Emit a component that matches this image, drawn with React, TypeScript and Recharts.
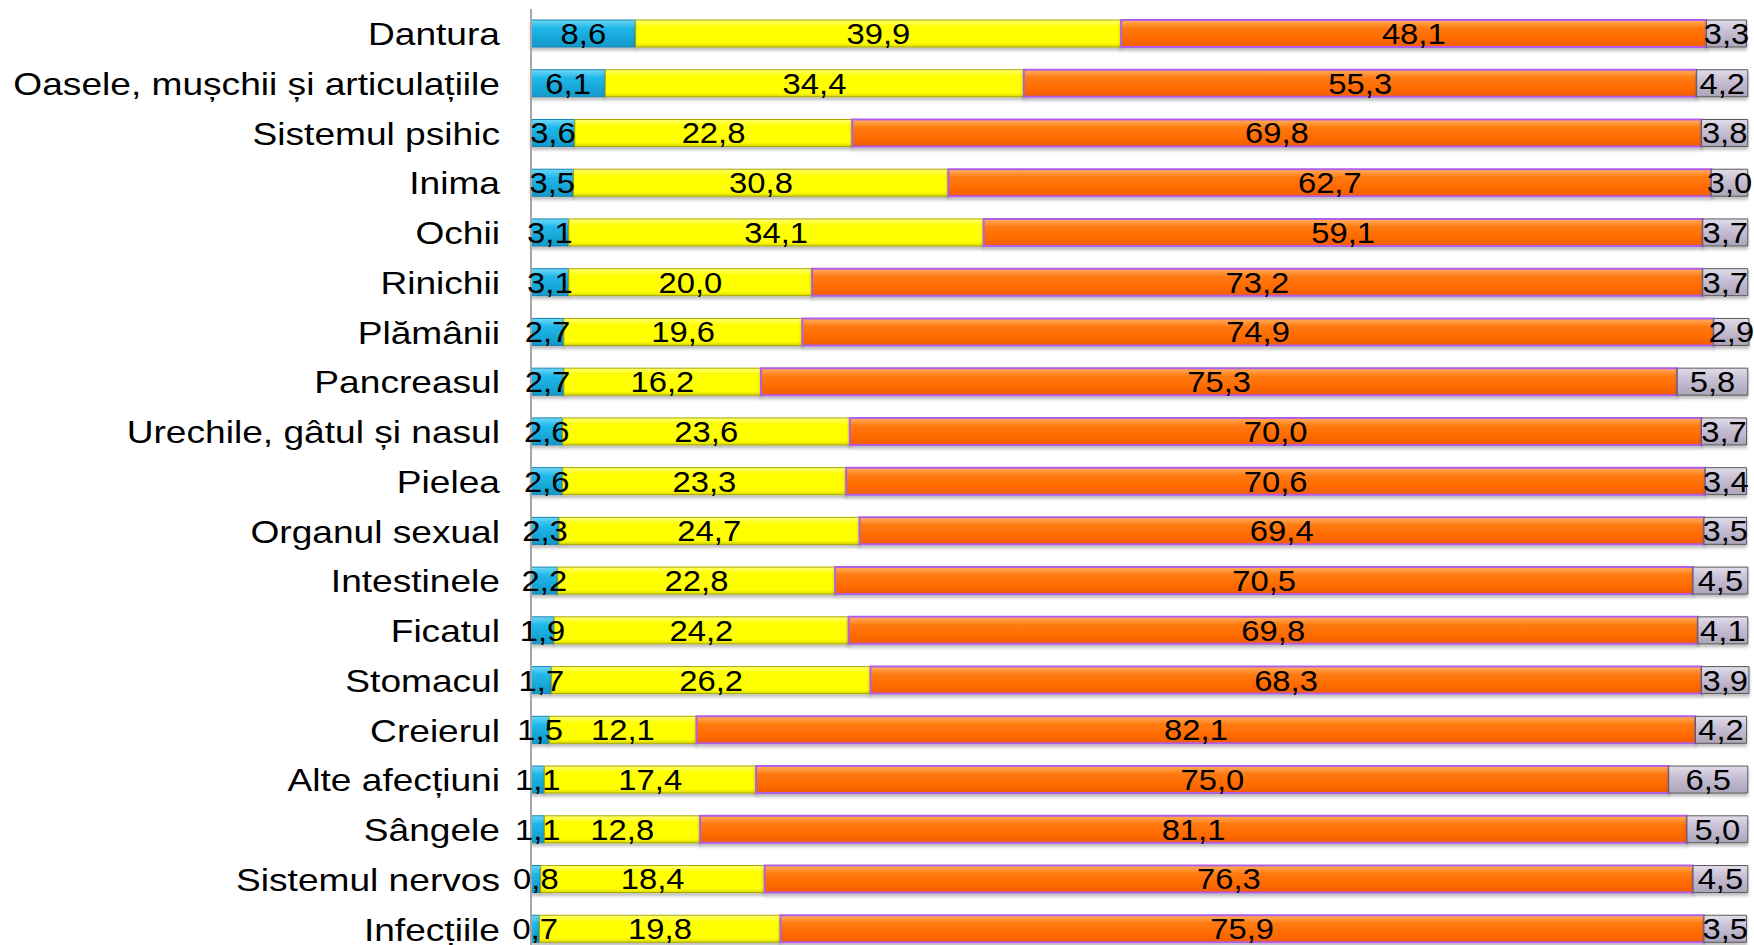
import React from 'react';
import { BarChart, Bar, XAxis, YAxis, LabelList } from 'recharts';

const categories = [
  'Dantura',
  'Oasele, mușchii și articulațiile',
  'Sistemul psihic',
  'Inima',
  'Ochii',
  'Rinichii',
  'Plămânii',
  'Pancreasul',
  'Urechile, gâtul și nasul',
  'Pielea',
  'Organul sexual',
  'Intestinele',
  'Ficatul',
  'Stomacul',
  'Creierul',
  'Alte afecțiuni',
  'Sângele',
  'Sistemul nervos',
  'Infecțiile',
];

const blueValues = [8.6, 6.1, 3.6, 3.5, 3.1, 3.1, 2.7, 2.7, 2.6, 2.6, 2.3, 2.2, 1.9, 1.7, 1.5, 1.1, 1.1, 0.8, 0.7];
const yellowValues = [39.9, 34.4, 22.8, 30.8, 34.1, 20.0, 19.6, 16.2, 23.6, 23.3, 24.7, 22.8, 24.2, 26.2, 12.1, 17.4, 12.8, 18.4, 19.8];
const orangeValues = [48.1, 55.3, 69.8, 62.7, 59.1, 73.2, 74.9, 75.3, 70.0, 70.6, 69.4, 70.5, 69.8, 68.3, 82.1, 75.0, 81.1, 76.3, 75.9];
const grayValues = [3.3, 4.2, 3.8, 3.0, 3.7, 3.7, 2.9, 5.8, 3.7, 3.4, 3.5, 4.5, 4.1, 3.9, 4.2, 6.5, 5.0, 4.5, 3.5];

const data = categories.map((name, i) => ({
  name,
  blue: blueValues[i],
  yellow: yellowValues[i],
  orange: orangeValues[i],
  gray: grayValues[i],
}));

const FONT = '"Liberation Sans", Arial, sans-serif';
const fmt = (v: any) => Number(v).toFixed(1).replace('.', ',');

// the source picture is a bit stretched sideways, so text is widened to match
function CategoryTick(props: any) {
  const { x, y, payload } = props;
  return (
    <g transform={`translate(${x},${y}) scale(1.16,1)`}>
      <text x={0} y={0} dy="0.355em" textAnchor="end" fontSize={32} fontFamily={FONT} fill="#000">
        {payload.value}
      </text>
    </g>
  );
}

function SegmentLabel(props: any) {
  const { x, y, width, height, value } = props;
  const cx = Number(x) + Number(width) / 2;
  const cy = Number(y) + Number(height) / 2;
  return (
    <g transform={`translate(${cx},${cy}) scale(1.13,1)`}>
      <text x={0} y={0} dy="0.36em" textAnchor="middle" fontSize={29} fontFamily={FONT} fill="#000">
        {fmt(value)}
      </text>
    </g>
  );
}

export default function App() {
  return (
    <div style={{ position: 'absolute', top: 0, left: 0, width: 1754, height: 945, overflow: 'hidden', background: '#fff' }}>
      <BarChart
        width={1754}
        height={955}
        data={data}
        layout="vertical"
        margin={{ top: 9, right: 5, bottom: 1, left: 8 }}
        barSize={27}
      >
        <defs>
          <filter id="shadow" x="-5%" y="-20%" width="110%" height="160%">
            <feDropShadow dx="0" dy="3" stdDeviation="1.5" floodColor="#000" floodOpacity="0.25" />
          </filter>
          <linearGradient id="gBlue" x1="0" y1="0" x2="0" y2="1">
            <stop offset="0" stopColor="#70d8f8" />
            <stop offset="0.3" stopColor="#20b8ea" />
            <stop offset="1" stopColor="#1198c8" />
          </linearGradient>
          <linearGradient id="gYellow" x1="0" y1="0" x2="0" y2="1">
            <stop offset="0" stopColor="#ffff70" />
            <stop offset="0.25" stopColor="#ffff00" />
            <stop offset="0.85" stopColor="#ffff00" />
            <stop offset="1" stopColor="#d9d900" />
          </linearGradient>
          <linearGradient id="gOrange" x1="0" y1="0" x2="0" y2="1">
            <stop offset="0" stopColor="#ffb060" />
            <stop offset="0.3" stopColor="#ff7a10" />
            <stop offset="0.7" stopColor="#ff6a00" />
            <stop offset="1" stopColor="#f05c00" />
          </linearGradient>
          <linearGradient id="gGray" x1="0" y1="0" x2="0" y2="1">
            <stop offset="0" stopColor="#e2dcea" />
            <stop offset="0.4" stopColor="#c8c0d4" />
            <stop offset="1" stopColor="#aca4b8" />
          </linearGradient>
        </defs>
        <XAxis type="number" domain={[0, 100]} hide />
        <YAxis
          type="category"
          dataKey="name"
          width={523}
          tickLine={false}
          tickMargin={25}
          axisLine={{ stroke: '#a6a6a6', strokeWidth: 2 }}
          tick={<CategoryTick />}
          interval={0}
        />
        <Bar dataKey="blue" stackId="a" fill="url(#gBlue)" stroke="#1583b3" strokeWidth={1} filter="url(#shadow)" isAnimationActive={false}>
          <LabelList dataKey="blue" content={<SegmentLabel />} />
        </Bar>
        <Bar dataKey="yellow" stackId="a" fill="url(#gYellow)" stroke="#a8a800" strokeWidth={1} filter="url(#shadow)" isAnimationActive={false}>
          <LabelList dataKey="yellow" content={<SegmentLabel />} />
        </Bar>
        <Bar dataKey="orange" stackId="a" fill="url(#gOrange)" stroke="#b05ee6" strokeWidth={2} filter="url(#shadow)" isAnimationActive={false}>
          <LabelList dataKey="orange" content={<SegmentLabel />} />
        </Bar>
        <Bar dataKey="gray" stackId="a" fill="url(#gGray)" stroke="#5a5a5a" strokeWidth={1} filter="url(#shadow)" isAnimationActive={false}>
          <LabelList dataKey="gray" content={<SegmentLabel />} />
        </Bar>
      </BarChart>
    </div>
  );
}
